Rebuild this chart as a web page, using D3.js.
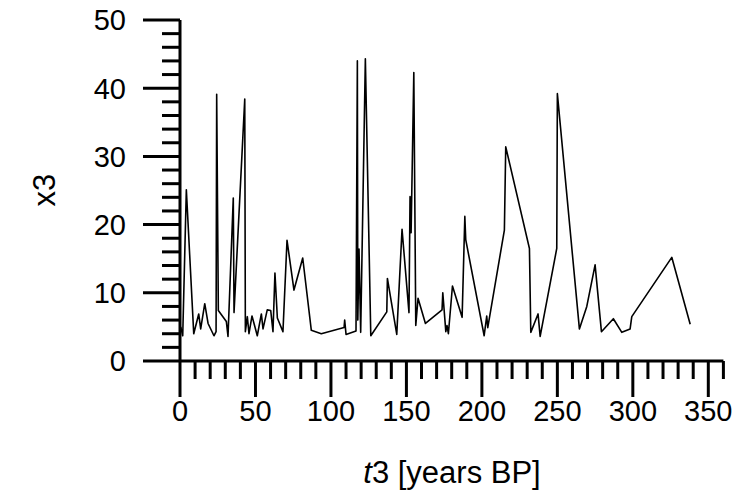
<!DOCTYPE html>
<html>
<head>
<meta charset="utf-8">
<script src="https://cdn.jsdelivr.net/npm/d3@7"></script>
<style>
  body { margin: 0; background: #fff; }
  text { font-family: "Liberation Sans", Arial, sans-serif; fill: #000; }
</style>
</head>
<body>
<div id="canvas"></div>
<script>
// t3 [years BP]
const t3 = [0.5, 1.8, 4.2, 9.1, 12.4, 13.7, 16.4, 18.6, 22.5, 23.9, 24.3, 25.4, 30.7, 31.8, 35.3, 35.8,
    42.9, 43.3, 44.6, 45.7, 47.7, 51.2, 53.9, 55.0, 57.8, 60.1, 61.6, 62.9, 64.5, 68.2, 70.9, 75.5,
    81.3, 87.0, 93.6, 108.7, 109.1, 110.0, 116.6, 117.5, 117.8, 118.6, 119.7, 122.8, 126.4, 137.0,
    137.4, 143.6, 147.1, 151.7, 152.4, 153.1, 154.9, 156.2, 157.7, 162.6, 173.6, 174.1, 176.1, 176.9,
    177.8, 180.5, 186.9, 188.7, 189.3, 201.5, 203.2, 203.9, 214.9, 215.8, 231.5, 232.4, 237.2, 238.6,
    249.6, 250.0, 264.6, 269.5, 275.0, 279.2, 287.1, 292.7, 298.2, 299.3, 325.8, 338.0];
// x3
const x3 = [5.0, 3.7, 25.1, 4.0, 6.9, 4.7, 8.4, 5.5, 3.7, 4.3, 39.1, 7.4, 5.8, 3.6, 23.9, 7.1,
    38.4, 4.3, 6.5, 4.0, 6.6, 3.7, 6.9, 4.7, 7.5, 7.4, 4.3, 12.9, 6.3, 4.3, 17.7, 10.4,
    15.1, 4.5, 4.0, 4.9, 6.0, 3.9, 4.4, 44.0, 6.0, 16.4, 4.2, 44.3, 3.7, 7.2,
    12.1, 3.9, 19.3, 7.1, 24.1, 18.8, 42.3, 5.2, 9.2, 5.5, 7.5, 10.0, 4.3, 5.2,
    4.0, 11.0, 6.4, 21.2, 17.8, 3.7, 6.6, 4.9, 19.2, 31.4, 16.5, 4.2, 6.9, 3.6,
    16.5, 39.2, 4.7, 8.0, 14.1, 4.3, 6.2, 4.2, 4.7, 6.5, 15.2, 5.4];

const xMajor = [0, 50, 100, 150, 200, 250, 300, 350];
const yMajor = [0, 10, 20, 30, 40, 50];

const width = 738, height = 504;
const svg = d3.select("#canvas").append("svg")
    .attr("width", width)
    .attr("height", height);

const x = d3.scaleLinear().domain([0, 360]).range([180, 723.4]);
const y = d3.scaleLinear().domain([0, 50]).range([361, 20]);

// y axis
const gy = svg.append("g");
gy.append("line")
    .attr("x1", x(0)).attr("x2", x(0))
    .attr("y1", y(0)).attr("y2", y(50))
    .attr("stroke", "#000").attr("stroke-width", 3);
gy.selectAll(".ymin").data(d3.range(0, 51, 2)).enter().append("line")
    .attr("x1", x(0)).attr("x2", d => x(0) - (d % 10 === 0 ? 37 : 18))
    .attr("y1", d => y(d)).attr("y2", d => y(d))
    .attr("stroke", "#000").attr("stroke-width", 3);
gy.selectAll("text").data(yMajor).enter().append("text")
    .attr("x", 126)
    .attr("y", d => y(d))
    .attr("dy", "0.36em")
    .attr("text-anchor", "end")
    .style("font-size", "29px")
    .text(d => d);

// x axis
const gx = svg.append("g");
gx.append("line")
    .attr("x1", x(0)).attr("x2", x(360))
    .attr("y1", y(0)).attr("y2", y(0))
    .attr("stroke", "#000").attr("stroke-width", 3);
gx.selectAll(".xmin").data(d3.range(0, 361, 10)).enter().append("line")
    .attr("x1", d => x(d)).attr("x2", d => x(d))
    .attr("y1", y(0)).attr("y2", d => y(0) + (d % 50 === 0 ? 36 : 18))
    .attr("stroke", "#000").attr("stroke-width", 3);
gx.selectAll("text").data(xMajor).enter().append("text")
    .attr("x", d => x(d))
    .attr("y", 421)
    .attr("text-anchor", "middle")
    .style("font-size", "29px")
    .text(d => d);

// titles
const xt = svg.append("text")
    .attr("x", 452).attr("y", 483)
    .attr("text-anchor", "middle")
    .style("font-size", "31px");
xt.append("tspan").style("font-style", "italic").text("t");
xt.append("tspan").text("3 [years BP]");

svg.append("text")
    .attr("transform", "translate(55,190) rotate(-90)")
    .attr("text-anchor", "middle")
    .style("font-size", "31px")
    .text("x3");

// data line
const line = d3.line().x((d, i) => x(t3[i])).y(d => y(d));
svg.append("path")
    .datum(x3)
    .attr("d", line)
    .attr("fill", "none")
    .attr("stroke", "#000")
    .attr("stroke-width", 1.6)
    .attr("stroke-linejoin", "round");
</script>
</body>
</html>
